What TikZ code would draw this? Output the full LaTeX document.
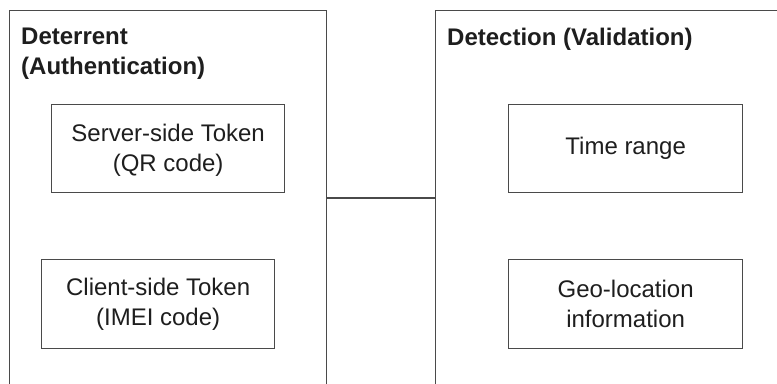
\documentclass[tikz,border=0pt]{standalone}
\usepackage{fontspec}
\setmainfont{Liberation Sans}
\definecolor{linec}{HTML}{4A4A4A}
\definecolor{textc}{HTML}{1E1E1E}
\begin{document}
\begin{tikzpicture}[x=1bp,y=-1bp,
  outer/.style={draw=linec,line width=1.3bp,rectangle,anchor=north west,inner sep=0pt},
  inbox/.style={draw=linec,line width=1.3bp,rectangle,anchor=north west,inner sep=0pt,
    minimum width=233bp,minimum height=88bp},
  intext/.style={text=textc,align=center,font=\fontsize{24bp}{30bp}\selectfont},
  title/.style={text=textc,align=left,anchor=north west,inner sep=0pt,font=\fontsize{24bp}{30bp}\selectfont\bfseries},
  conn/.style={draw=linec,line width=1.3bp}]
\useasboundingbox (0,0) rectangle (777,383);
\clip (0,0) rectangle (777,383);
\fill[white] (0,0) rectangle (777,383);
% outer boxes (open at the bottom / right, running off the picture)
\node[outer,minimum width=317bp,minimum height=420bp] (left) at (9,10) {};
\node[outer,minimum width=420bp,minimum height=420bp] (right) at (435,10) {};
% titles
\node[title] (lt) at (21,28) {Deterrent\\(Authentication)};
\node[title] (rt) at (447,28) {Detection (Validation)};
% inner boxes
\node[inbox] (srv) at (51,104) {};
\node[intext] (srvt) at ([yshift=-2bp]srv.center) {Server-side Token\\(QR code)};
\node[inbox,minimum height=89bp] (cli) at (41,259) {};
\node[intext] (clit) at (cli.center) {Client-side Token\\(IMEI code)};
\node[inbox,minimum width=234bp] (time) at (508,104) {};
\node[intext] (timet) at (time.center) {Time range};
\node[inbox,minimum width=234bp,minimum height=89bp] (geo) at (508,259) {};
\node[intext] (geot) at (geo.center) {Geo-location\\information};
% connector
\coordinate (cy) at (0,198);
\draw[conn] (left.east |- cy) -- (right.west |- cy);
\end{tikzpicture}
\end{document}
